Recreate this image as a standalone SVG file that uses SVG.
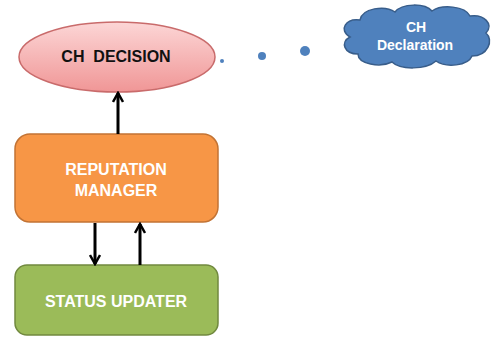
<svg xmlns="http://www.w3.org/2000/svg" width="494" height="337" viewBox="0 0 494 337">
<defs>
<linearGradient id="pink" x1="0" y1="0" x2="0" y2="1">
<stop offset="0" stop-color="#fcd6d6"/>
<stop offset="1" stop-color="#f09696"/>
</linearGradient>
<marker id="ah" viewBox="0 0 12 12" refX="10" refY="6" markerWidth="12" markerHeight="12" markerUnits="userSpaceOnUse" orient="auto">
<path d="M1,1 L10,6 L1,11" fill="none" stroke="#000" stroke-width="2.5"/>
</marker>
<style>
.lbl{font-family:"Liberation Sans",Arial,sans-serif;font-weight:bold;text-anchor:middle;white-space:pre}
.w{fill:#fff}
.conn{stroke:#000;stroke-width:3;fill:none;marker-end:url(#ah)}
.dot{fill:#4f81bd}
</style>
</defs>
<rect width="494" height="337" fill="#fff"/>
<g id="ch-decision">
<ellipse cx="117" cy="57" rx="98" ry="35" fill="url(#pink)" stroke="#c96b6b" stroke-width="1.5"/>
<text class="lbl" x="116" y="62" font-size="16" fill="#111" xml:space="preserve">CH  DECISION</text>
</g>
<g id="reputation-manager">
<rect x="15" y="134" width="203" height="88" rx="15" fill="#f79646" stroke="#c27334" stroke-width="1.5"/>
<text class="lbl w" x="116" y="175" font-size="16">REPUTATION</text>
<text class="lbl w" x="116" y="196" font-size="16">MANAGER</text>
</g>
<g id="status-updater">
<rect x="15" y="265" width="203" height="70" rx="12" fill="#9bbb59" stroke="#71893f" stroke-width="1.5"/>
<text class="lbl w" x="116" y="307" font-size="16">STATUS UPDATER</text>
</g>
<g id="ch-declaration">
<path d="M360,20 C362,8 385,5 395,12 C402,3 425,3 432,11 C442,4 465,6 470,16 C484,14 494,24 486,33 C494,40 488,56 472,56 C468,66 446,68 436,61 C426,70 400,70 392,62 C380,68 358,64 358,54 C344,54 340,42 350,37 C338,30 346,18 360,20 Z" fill="#4f81bd" stroke="#385d8a" stroke-width="1.5"/>
<text class="lbl w" x="416" y="32" font-size="14">CH</text>
<text class="lbl w" x="415" y="50" font-size="14">Declaration</text>
</g>
<g id="dots">
<circle class="dot" cx="222" cy="61" r="2"/>
<circle class="dot" cx="262" cy="56" r="4"/>
<circle class="dot" cx="305" cy="51" r="5"/>
</g>
<g id="connectors">
<line class="conn" x1="118" y1="134" x2="118" y2="93"/>
<line class="conn" x1="95" y1="223" x2="95" y2="264"/>
<line class="conn" x1="140" y1="265" x2="140" y2="224"/>
</g>
</svg>
